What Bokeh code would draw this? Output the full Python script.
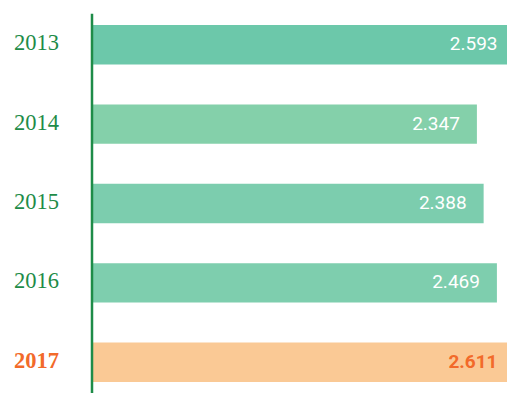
import numpy as np
from bokeh.plotting import figure
from bokeh.models import Range1d, Span, ColumnDataSource
from bokeh.core.properties import value
from bokeh.embed import file_html
from bokeh.resources import INLINE

years = ["2013", "2014", "2015", "2016", "2017"]
values = [2.593, 2.347, 2.388, 2.469, 2.611]
value_labels = ["2.593", "2.347", "2.388", "2.469", "2.611"]

W, H = 507, 393
px_per_unit = 164.0
x0_px = 91.5
x_start = -x0_px / px_per_unit
x_end = (W - x0_px) / px_per_unit

idx = np.arange(len(years))
highlight = [y == "2017" for y in years]
base_colors = ["#6CC8AA", "#84D0AA", "#7CCDAE", "#7ECEAE", "#FAC995"]
bar_colors = ["#FAC995" if h else c for h, c in zip(highlight, base_colors)]
year_colors = ["#F26A2A" if h else "#1E8C48" for h in highlight]
year_styles = ["bold" if h else "normal" for h in highlight]
val_colors = ["#F26A2A" if h else "#FFFFFF" for h in highlight]
val_styles = ["bold" if h else "normal" for h in highlight]
vals = np.array(values)
clipped = vals > x_end
label_x = np.minimum(vals, x_end)
label_off = np.where(clipped, -10, -17)

src = ColumnDataSource(dict(y=idx, v=values, year=years, vl=value_labels,
                            bc=bar_colors, yc=year_colors, ys=year_styles,
                            vc=val_colors, vs=val_styles, lx=label_x, lo=label_off))

p = figure(width=W, height=H, output_backend="svg", toolbar_location=None,
           x_range=Range1d(x_start, x_end), y_range=Range1d(4.394, -0.394),
           min_border_left=0, min_border_right=0, min_border_top=13, min_border_bottom=0)
p.axis.visible = False
p.grid.visible = False
p.outline_line_color = None
p.background_fill_color = "white"

p.hbar(y="y", left=0, right="v", height=0.497, fill_color="bc", line_color=None, source=src)
p.add_layout(Span(location=0, dimension="height", line_color="#1E8C48", line_width=2.5))

p.text(x=0, y="y", text="year", x_offset=-78, y_offset=-2, text_align="left", text_baseline="middle",
       text_font=value("Liberation Serif"), text_font_size="22.5px", text_color="yc",
       text_font_style="ys", source=src)
p.text(x="lx", y="y", text="vl", x_offset="lo", y_offset=-1, text_align="right", text_baseline="middle",
       text_font=value("Roboto"), text_font_size="19px", text_color="vc",
       text_font_style="vs", source=src)

open("out.html", "w").write(file_html(p, INLINE))
